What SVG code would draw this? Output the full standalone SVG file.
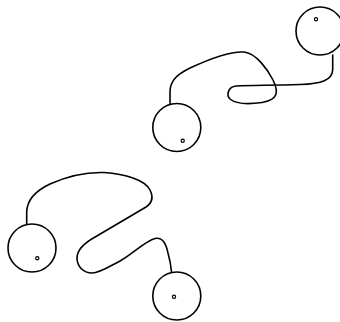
<svg xmlns="http://www.w3.org/2000/svg" width="340" height="322" viewBox="0 0 340 322">
<style>
.ball{fill:#fff;stroke:#000;stroke-width:1.6}
.dot{fill:#fff;stroke:#000;stroke-width:1.2}
.wire{fill:none;stroke:#000;stroke-width:1.6;stroke-linecap:round}
</style>
<rect width="340" height="322" fill="#fff"/>
<g id="connectors">
<path class="wire" d="M170,103.5 V92 C170,80 178,74 190,68 C205,61 228,51 244,52 C256,53 268,70 273,80 C279,92 278,100 262,102.5 C248,104.5 236,104 230,99 C226,95 228,87 236,86 C250,85 270,85.5 300,84.5 C322,84 332,80 332.7,70 V55"/>
<path class="wire" d="M26.7,224 V212 C27,200 35,191 50,184 C70,175 88,172 104,172.5 C125,174 145,180 150,190 C154,198 152,203 146,207 L96,236.5 C84,243 77,250 77,258 C77,266 83,273 92,273 C100,273 110,266 120,261 C133,254 145,241 155,238.5 C163,237 166,244 168,253 C170,260 171,266 171.5,272"/>
</g>
<g id="n1"><circle class="ball" cx="320" cy="31" r="24"/><circle class="dot" cx="316" cy="19.3" r="1.6"/></g>
<g id="n2"><circle class="ball" cx="176.8" cy="127.5" r="24"/><circle class="dot" cx="182.7" cy="140.7" r="1.6"/></g>
<g id="n3"><circle class="ball" cx="32" cy="248" r="24"/><circle class="dot" cx="37.3" cy="258.3" r="1.6"/></g>
<g id="n4"><circle class="ball" cx="176.8" cy="296" r="24"/><circle class="dot" cx="174" cy="296.7" r="1.6"/></g>
</svg>
